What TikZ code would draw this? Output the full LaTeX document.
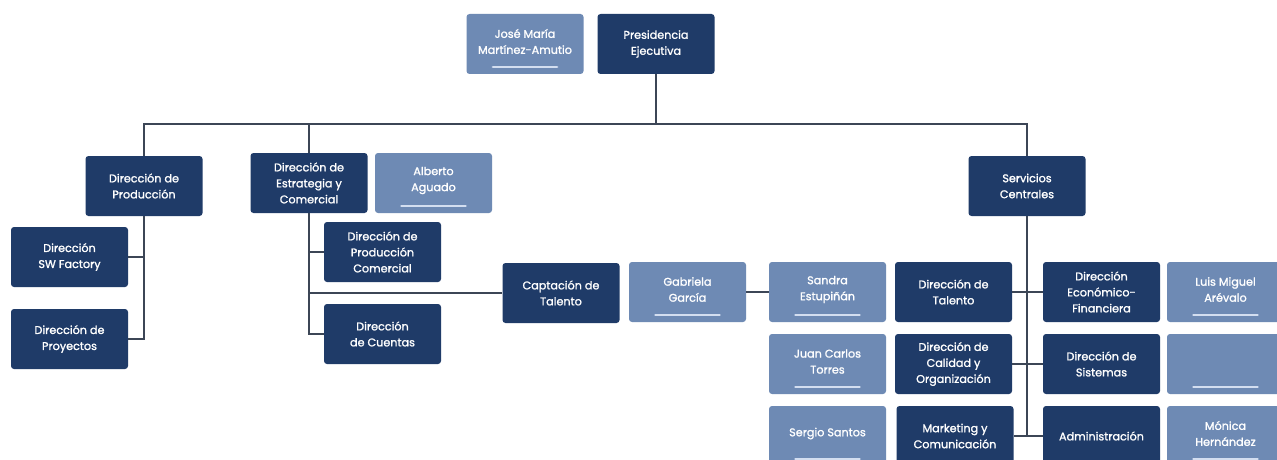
\documentclass[tikz,border=0pt]{standalone}
\usepackage{fontspec}
\setmainfont{Poppins}
\newfontfamily\boxfont{Poppins}[FakeBold=1.4]
\definecolor{darkc}{HTML}{1F3B68}
\definecolor{lightc}{HTML}{6E8AB4}
\definecolor{ulc}{HTML}{D3DEF0}
\definecolor{linec}{HTML}{3C4656}
\tikzset{
  box/.style={rounded corners=3pt, minimum width=117pt, minimum height=60pt, inner sep=0pt,
    text=white, font=\boxfont\fontsize{11.2}{16}\selectfont, align=center},
  dark/.style={box, fill=darkc},
  light/.style={box, fill=lightc, path picture={\draw[ulc, line width=2.8pt, line cap=round]
      ([xshift=-32pt,yshift=7pt]path picture bounding box.south) --
      ([xshift=32pt,yshift=7pt]path picture bounding box.south);}},
  lbl/.style={text=white, font=\boxfont\fontsize{11.2}{16}\selectfont, align=center, inner sep=0pt},
  conn/.style={draw=linec, line width=1.4pt}
}
\newcommand{\lbox}[4]{\node[light] (#1) at (#2,#3) {};
  \node[lbl] (#1t) at ([yshift=2.5pt]#1.center) {#4};}
\begin{document}
\begin{tikzpicture}[x=1pt,y=-1pt]
\useasboundingbox[fill=white] (0,0) rectangle (1277,460);
% top
\lbox{jm}{525}{44}{José María\\Martínez-Amutio}
\node[dark] (pres) at (656,44) {Presidencia\\Ejecutiva};
% level 2
\node[dark] (prod) at (144,186) {Dirección de\\Producción};
\node[dark] (estr) at (309,183) {Dirección de\\Estrategia y\\Comercial};
\lbox{alb}{433.5}{183}{Alberto\\Aguado}
\node[dark] (serv) at (1027,186) {Servicios\\Centrales};
% production
\node[dark] (swf) at (69.5,257) {Dirección\\SW Factory};
\node[dark] (proy) at (69.5,339) {Dirección de\\Proyectos};
% strategy
\node[dark] (dpc) at (382.5,252) {Dirección de\\Producción\\Comercial};
\node[dark] (dcu) at (382.5,334) {Dirección\\de Cuentas};
\node[dark] (capt) at (561,293) {Captación de\\Talento};
\lbox{gab}{687.5}{292}{Gabriela\\García}
\lbox{san}{827.5}{292}{Sandra\\Estupiñán}
\lbox{jct}{827.5}{364}{Juan Carlos\\Torres}
\lbox{ss}{827.5}{436}{Sergio Santos}
% central services
\node[dark] (tal) at (953.5,292) {Dirección de\\Talento};
\node[dark] (cal) at (953.5,364) {Dirección de\\Calidad y\\Organización};
\node[dark] (mkt) at (955,436) {Marketing y\\Comunicación};
\node[dark] (eco) at (1101.5,292) {Dirección\\Económico-\\Financiera};
\node[dark] (sis) at (1101.5,364) {Dirección de\\Sistemas};
\node[dark] (adm) at (1101.5,436) {Administración};
\lbox{lma}{1225.5}{292}{Luis Miguel\\Arévalo}
\lbox{vac}{1225.5}{364}{}
\lbox{mon}{1225.5}{436}{Mónica\\Hernández}
% connectors
\coordinate (bus) at (656,124);
\draw[conn] (pres.south) -- (bus);
\draw[conn] (prod.north) |- (bus) -| (serv.north);
\draw[conn] (estr.north) -- (estr.north |- bus);
\draw[conn] (prod.south) |- (swf.east);
\draw[conn] (prod.south) |- (proy.east);
\draw[conn] (estr.south) |- (dpc.west);
\draw[conn] (estr.south) |- (dcu.west);
\draw[conn] (estr.south) |- (capt.west);
\draw[conn] (gab.east) -- (san.west);
\draw[conn] (serv.south) |- (tal.east);
\draw[conn] (serv.south) |- (cal.east);
\draw[conn] (serv.south) |- (mkt.east);
\draw[conn] (serv.south) |- (eco.west);
\draw[conn] (serv.south) |- (sis.west);
\draw[conn] (serv.south) |- (adm.west);
\end{tikzpicture}
\end{document}
